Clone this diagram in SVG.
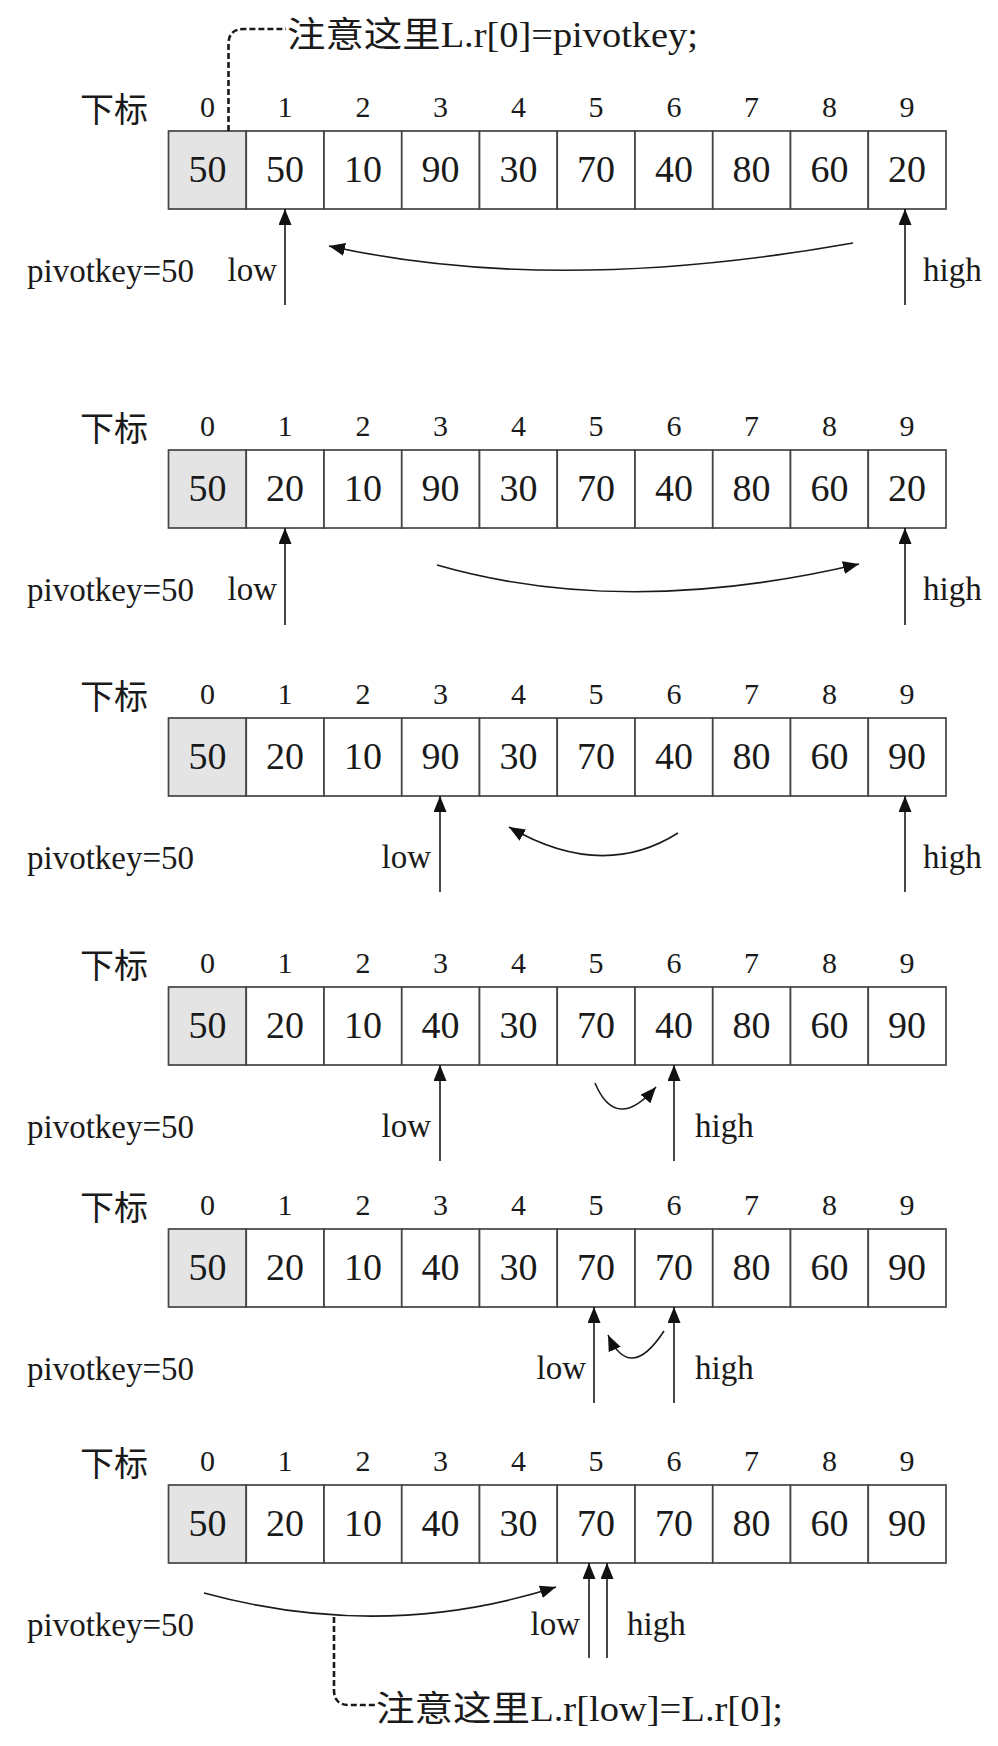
<svg xmlns="http://www.w3.org/2000/svg" width="998" height="1746" viewBox="0 0 998 1746">
<style>
.bg{fill:#ffffff}
.c{fill:#ffffff;stroke:#444444;stroke-width:1.7}
.c0{fill:#e4e4e4;stroke:#444444;stroke-width:1.7}
.idx{font-family:"Liberation Serif",serif;font-size:30px;fill:#1a1a1a;text-anchor:middle}
.val{font-family:"Liberation Serif",serif;font-size:38px;fill:#1a1a1a;text-anchor:middle}
.lbl{font-family:"Liberation Serif",serif;font-size:33px;fill:#1a1a1a}
.cjk{font-family:"Liberation Serif","Noto Sans CJK SC",sans-serif;font-size:34px;fill:#1a1a1a}
.note{font-family:"Liberation Serif","Noto Sans CJK SC",sans-serif;font-size:35px;fill:#1a1a1a}
.ar{fill:none;stroke:#1a1a1a;stroke-width:1.6;marker-end:url(#ah)}
.dash{fill:none;stroke:#1a1a1a;stroke-width:2.6;stroke-dasharray:6 3}
</style>
<defs>
<marker id="ah" markerUnits="userSpaceOnUse" markerWidth="18" markerHeight="14" refX="16" refY="6.5" orient="auto"><path d="M0,0 L16,6.5 L0,13 z" fill="#111"/></marker>
<g id="heads">
<text class="cjk" x="80" y="-9">下标</text>
<text class="idx" x="207.4" y="-14">0</text>
<text class="idx" x="285.1" y="-14">1</text>
<text class="idx" x="362.9" y="-14">2</text>
<text class="idx" x="440.6" y="-14">3</text>
<text class="idx" x="518.4" y="-14">4</text>
<text class="idx" x="596.1" y="-14">5</text>
<text class="idx" x="673.9" y="-14">6</text>
<text class="idx" x="751.6" y="-14">7</text>
<text class="idx" x="829.4" y="-14">8</text>
<text class="idx" x="907.1" y="-14">9</text>
<rect class="c0" x="168.5" y="0" width="77.75" height="78"/>
<rect class="c" x="246.25" y="0" width="77.75" height="78"/>
<rect class="c" x="324" y="0" width="77.75" height="78"/>
<rect class="c" x="401.75" y="0" width="77.75" height="78"/>
<rect class="c" x="479.5" y="0" width="77.75" height="78"/>
<rect class="c" x="557.25" y="0" width="77.75" height="78"/>
<rect class="c" x="635" y="0" width="77.75" height="78"/>
<rect class="c" x="712.75" y="0" width="77.75" height="78"/>
<rect class="c" x="790.5" y="0" width="77.75" height="78"/>
<rect class="c" x="868.25" y="0" width="77.75" height="78"/>
<text class="lbl" x="27" y="151">pivotkey=50</text>
</g>
</defs>
<rect class="bg" x="0" y="0" width="998" height="1746"/>

<g id="panel1" transform="translate(0,131)">
<use href="#heads"/>
<g class="vals">
<text class="val" x="207.4" y="51">50</text><text class="val" x="285.1" y="51">50</text><text class="val" x="362.9" y="51">10</text><text class="val" x="440.6" y="51">90</text><text class="val" x="518.4" y="51">30</text><text class="val" x="596.1" y="51">70</text><text class="val" x="673.9" y="51">40</text><text class="val" x="751.6" y="51">80</text><text class="val" x="829.4" y="51">60</text><text class="val" x="907.1" y="51">20</text>
</g>
<text class="lbl" x="277" y="150" text-anchor="end">low</text>
<text class="lbl" x="923" y="150">high</text>
</g>

<g id="panel2" transform="translate(0,450)">
<use href="#heads"/>
<g class="vals">
<text class="val" x="207.4" y="51">50</text><text class="val" x="285.1" y="51">20</text><text class="val" x="362.9" y="51">10</text><text class="val" x="440.6" y="51">90</text><text class="val" x="518.4" y="51">30</text><text class="val" x="596.1" y="51">70</text><text class="val" x="673.9" y="51">40</text><text class="val" x="751.6" y="51">80</text><text class="val" x="829.4" y="51">60</text><text class="val" x="907.1" y="51">20</text>
</g>
<text class="lbl" x="277" y="150" text-anchor="end">low</text>
<text class="lbl" x="923" y="150">high</text>
</g>

<g id="panel3" transform="translate(0,718)">
<use href="#heads"/>
<g class="vals">
<text class="val" x="207.4" y="51">50</text><text class="val" x="285.1" y="51">20</text><text class="val" x="362.9" y="51">10</text><text class="val" x="440.6" y="51">90</text><text class="val" x="518.4" y="51">30</text><text class="val" x="596.1" y="51">70</text><text class="val" x="673.9" y="51">40</text><text class="val" x="751.6" y="51">80</text><text class="val" x="829.4" y="51">60</text><text class="val" x="907.1" y="51">90</text>
</g>
<text class="lbl" x="431" y="150" text-anchor="end">low</text>
<text class="lbl" x="923" y="150">high</text>
</g>

<g id="panel4" transform="translate(0,987)">
<use href="#heads"/>
<g class="vals">
<text class="val" x="207.4" y="51">50</text><text class="val" x="285.1" y="51">20</text><text class="val" x="362.9" y="51">10</text><text class="val" x="440.6" y="51">40</text><text class="val" x="518.4" y="51">30</text><text class="val" x="596.1" y="51">70</text><text class="val" x="673.9" y="51">40</text><text class="val" x="751.6" y="51">80</text><text class="val" x="829.4" y="51">60</text><text class="val" x="907.1" y="51">90</text>
</g>
<text class="lbl" x="431" y="150" text-anchor="end">low</text>
<text class="lbl" x="695" y="150">high</text>
</g>

<g id="panel5" transform="translate(0,1229)">
<use href="#heads"/>
<g class="vals">
<text class="val" x="207.4" y="51">50</text><text class="val" x="285.1" y="51">20</text><text class="val" x="362.9" y="51">10</text><text class="val" x="440.6" y="51">40</text><text class="val" x="518.4" y="51">30</text><text class="val" x="596.1" y="51">70</text><text class="val" x="673.9" y="51">70</text><text class="val" x="751.6" y="51">80</text><text class="val" x="829.4" y="51">60</text><text class="val" x="907.1" y="51">90</text>
</g>
<text class="lbl" x="586" y="150" text-anchor="end">low</text>
<text class="lbl" x="695" y="150">high</text>
</g>

<g id="panel6" transform="translate(0,1485)">
<use href="#heads"/>
<g class="vals">
<text class="val" x="207.4" y="51">50</text><text class="val" x="285.1" y="51">20</text><text class="val" x="362.9" y="51">10</text><text class="val" x="440.6" y="51">40</text><text class="val" x="518.4" y="51">30</text><text class="val" x="596.1" y="51">70</text><text class="val" x="673.9" y="51">70</text><text class="val" x="751.6" y="51">80</text><text class="val" x="829.4" y="51">60</text><text class="val" x="907.1" y="51">90</text>
</g>
<text class="lbl" x="580" y="150" text-anchor="end">low</text>
<text class="lbl" x="627" y="150">high</text>
</g>

<g id="note-top">
<text class="note" x="287" y="47" textLength="411" lengthAdjust="spacingAndGlyphs">注意这里L.r[0]=pivotkey;</text>
</g>
<g id="note-bottom">
<text class="note" x="376" y="1721" textLength="407" lengthAdjust="spacingAndGlyphs">注意这里L.r[low]=L.r[0];</text>
</g>

<g id="connectors">
<path class="dash" d="M228.5,131 L228.5,44 Q228.5,29 244,29 L286,29"/>
<path class="dash" d="M334,1617 L334,1690 Q334,1705 349,1705 L375,1705"/>
<path class="ar" d="M285,305 L285,209"/>
<path class="ar" d="M905,305 L905,209"/>
<path class="ar" d="M853,243 Q555,296 329,246"/>
<path class="ar" d="M285,625 L285,528"/>
<path class="ar" d="M905,625 L905,528"/>
<path class="ar" d="M437,565 Q625,619 859,564"/>
<path class="ar" d="M440,892 L440,796"/>
<path class="ar" d="M905,892 L905,796"/>
<path class="ar" d="M678,833 Q602,881 509,827"/>
<path class="ar" d="M440,1161 L440,1065"/>
<path class="ar" d="M674,1161 L674,1065"/>
<path class="ar" d="M595,1083 Q616,1133 656,1087"/>
<path class="ar" d="M594,1403 L594,1307"/>
<path class="ar" d="M674,1403 L674,1307"/>
<path class="ar" d="M664,1331 Q630,1383 608,1335"/>
<path class="ar" d="M589,1658 L589,1563"/>
<path class="ar" d="M607,1658 L607,1563"/>
<path class="ar" d="M204,1593 Q384,1642 556,1587"/>
</g>
</svg>
